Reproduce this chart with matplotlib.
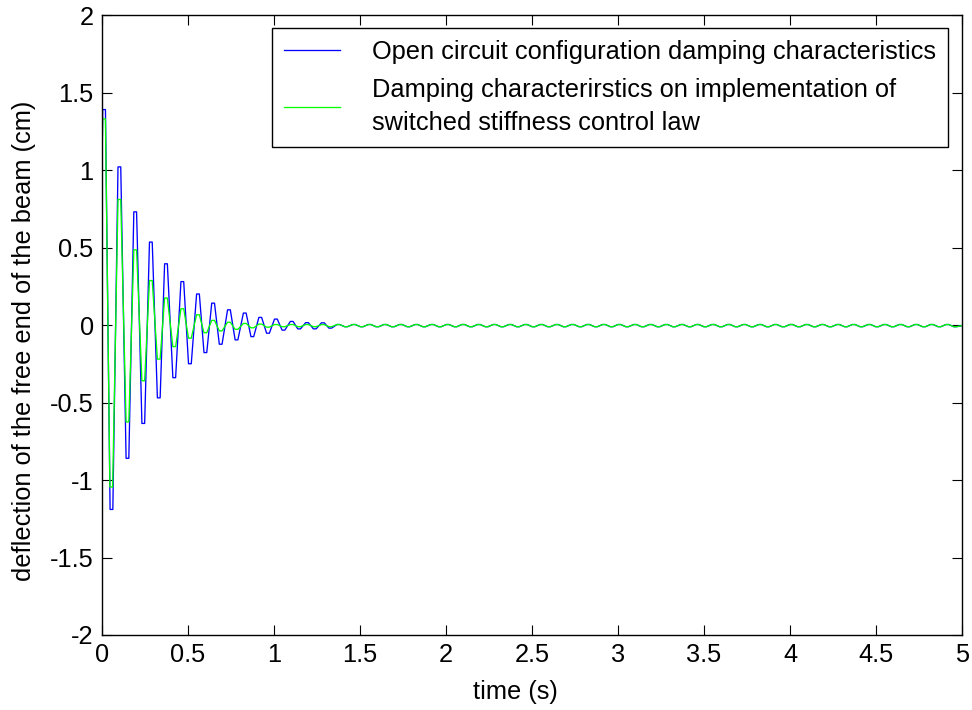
import matplotlib
matplotlib.use("Agg")
import matplotlib.pyplot as plt
import numpy as np

plt.rcParams["font.family"] = ["Liberation Sans", "DejaVu Sans"]

# Extrema (time in s, deflection in cm) of the transient part of each response
open_t = [0.000, 0.012, 0.055, 0.101, 0.148, 0.193, 0.240, 0.284, 0.330, 0.372,
          0.420, 0.467, 0.511, 0.558, 0.601, 0.646, 0.690, 0.738, 0.782, 0.830,
          0.874, 0.920, 0.965, 1.011, 1.055, 1.103, 1.146, 1.192, 1.237, 1.284,
          1.327]
open_v = [1.00, 1.39, -1.19, 1.02, -0.86, 0.73, -0.635, 0.535, -0.47, 0.395,
          -0.34, 0.28, -0.25, 0.20, -0.178, 0.141, -0.124, 0.098, -0.096, 0.077,
          -0.075, 0.049, -0.053, 0.038, -0.033, 0.023, -0.025, 0.015, -0.025, 0.014,
          -0.020]

ssc_t = [0.000, 0.012, 0.054, 0.101, 0.148, 0.193, 0.240, 0.284, 0.330, 0.372,
         0.420, 0.467, 0.511, 0.558, 0.601, 0.646, 0.690, 0.738, 0.782, 0.830,
         0.874, 0.920, 0.965, 1.011, 1.055, 1.103, 1.146, 1.192, 1.237, 1.284,
         1.327]
ssc_v = [1.00, 1.33, -1.045, 0.81, -0.625, 0.485, -0.36, 0.287, -0.22, 0.174,
         -0.14, 0.105, -0.085, 0.066, -0.05, 0.03, -0.038, 0.018, -0.028, 0.010,
         -0.018, 0.006, -0.014, 0.003, -0.011, 0.003, -0.011, 0.003, -0.011, 0.003,
         -0.011]

# Residual ripple (common to both responses) after ~1.35 s
tail_peak_t = [1.374, 1.465, 1.556, 1.646, 1.737, 1.828, 1.919, 2.010, 2.100, 2.191,
               2.282, 2.373, 2.464, 2.554, 2.645, 2.736, 2.827, 2.918, 3.008, 3.099,
               3.190, 3.281, 3.372, 3.462, 3.553, 3.644, 3.735, 3.826, 3.916, 4.007,
               4.098, 4.189, 4.280, 4.370, 4.461, 4.552, 4.643, 4.734, 4.824, 4.915]
tail_trough_t = [1.419, 1.510, 1.601, 1.691, 1.782, 1.873, 1.964, 2.055, 2.145, 2.236,
                 2.327, 2.418, 2.509, 2.599, 2.690, 2.781, 2.872, 2.963, 3.053, 3.144,
                 3.235, 3.326, 3.417, 3.507, 3.598, 3.689, 3.780, 3.871, 3.961, 4.052,
                 4.143, 4.234, 4.325, 4.415, 4.506, 4.597, 4.688, 4.779, 4.869, 4.960]
tail_peak_v = [0.003, 0.003, 0.003, 0.003, 0.003, 0.003, 0.003, 0.003, 0.003, 0.003,
               0.003, 0.003, 0.003, 0.003, 0.003, 0.003, 0.003, 0.003, 0.003, 0.003,
               0.003, 0.003, 0.003, 0.003, 0.003, 0.003, 0.003, 0.003, 0.003, 0.003,
               0.003, 0.003, 0.003, 0.003, 0.003, 0.003, 0.003, 0.003, 0.003, 0.003]
tail_trough_v = [-0.011, -0.011, -0.011, -0.011, -0.011, -0.011, -0.011, -0.011, -0.011, -0.011,
                 -0.011, -0.011, -0.011, -0.011, -0.011, -0.011, -0.011, -0.011, -0.011, -0.011,
                 -0.011, -0.011, -0.011, -0.011, -0.011, -0.011, -0.011, -0.011, -0.011, -0.011,
                 -0.011, -0.011, -0.011, -0.011, -0.011, -0.011, -0.011, -0.011, -0.011, -0.011]
end_t, end_v = 5.0, -0.004

labels = ["Open circuit configuration damping characteristics",
          "Damping characterirstics on implementation of\nswitched stiffness control law"]
x_ticks = [0, 0.5, 1, 1.5, 2, 2.5, 3, 3.5, 4, 4.5, 5]
y_ticks = [-2, -1.5, -1, -0.5, 0, 0.5, 1, 1.5, 2]


def trace(t_ext, v_ext):
    """Join the extrema into a sampled-looking trace with short flat crests."""
    tail = sorted(list(zip(tail_peak_t, tail_peak_v)) +
                  list(zip(tail_trough_t, tail_trough_v)))
    ts = list(t_ext) + [p[0] for p in tail] + [end_t]
    vs = list(v_ext) + [p[1] for p in tail] + [end_v]
    hw = 0.008
    xs, ys = [ts[0]], [vs[0]]
    for t, v in zip(ts[1:-1], vs[1:-1]):
        xs += [t - hw, t + hw]
        ys += [v, v]
    xs.append(ts[-1])
    ys.append(vs[-1])
    return np.array(xs), np.array(ys)


fig = plt.figure(figsize=(9.72, 7.10), dpi=100)
ax = fig.add_axes([102 / 972, 1 - 635 / 710, 860 / 972, 620 / 710])

bx, by = trace(open_t, open_v)
gx, gy = trace(ssc_t, ssc_v)
ax.plot(bx, by, color="#0000ff", lw=0.95, label=labels[0])
ax.plot(gx, gy, color="#00ff00", lw=0.95, label=labels[1])

ax.set_xlim(0, 5)
ax.set_ylim(-2, 2)
ax.set_xticks(x_ticks)
ax.set_xticklabels([f"{v:g}" for v in x_ticks])
ax.set_yticks(y_ticks)
ax.set_yticklabels([f"{v:g}" for v in y_ticks])

fs = 18.3
ax.tick_params(direction="in", length=7, width=0.8, top=True, right=True,
               labelsize=fs, pad=6)
for s in ax.spines.values():
    s.set_linewidth(1.0)

ax.set_xlabel("time (s)", fontsize=fs)
ax.set_ylabel("deflection of the free end of the beam (cm)", fontsize=fs)
ax.xaxis.set_label_coords(0.481, -0.0726)
ax.yaxis.set_label_coords(-0.0767, 0.474)

leg = ax.legend(loc="upper right", bbox_to_anchor=((948 - 102) / 860, 1 - 13 / 620),
                borderaxespad=0, fontsize=fs, fancybox=False, edgecolor="black",
                framealpha=1, handlelength=2.2, handletextpad=1.25, borderpad=0.48,
                labelspacing=0.55)
leg.get_frame().set_linewidth(1.0)
leg.get_texts()[1].set_linespacing(1.45)

fig.savefig("out.png", dpi=100)
